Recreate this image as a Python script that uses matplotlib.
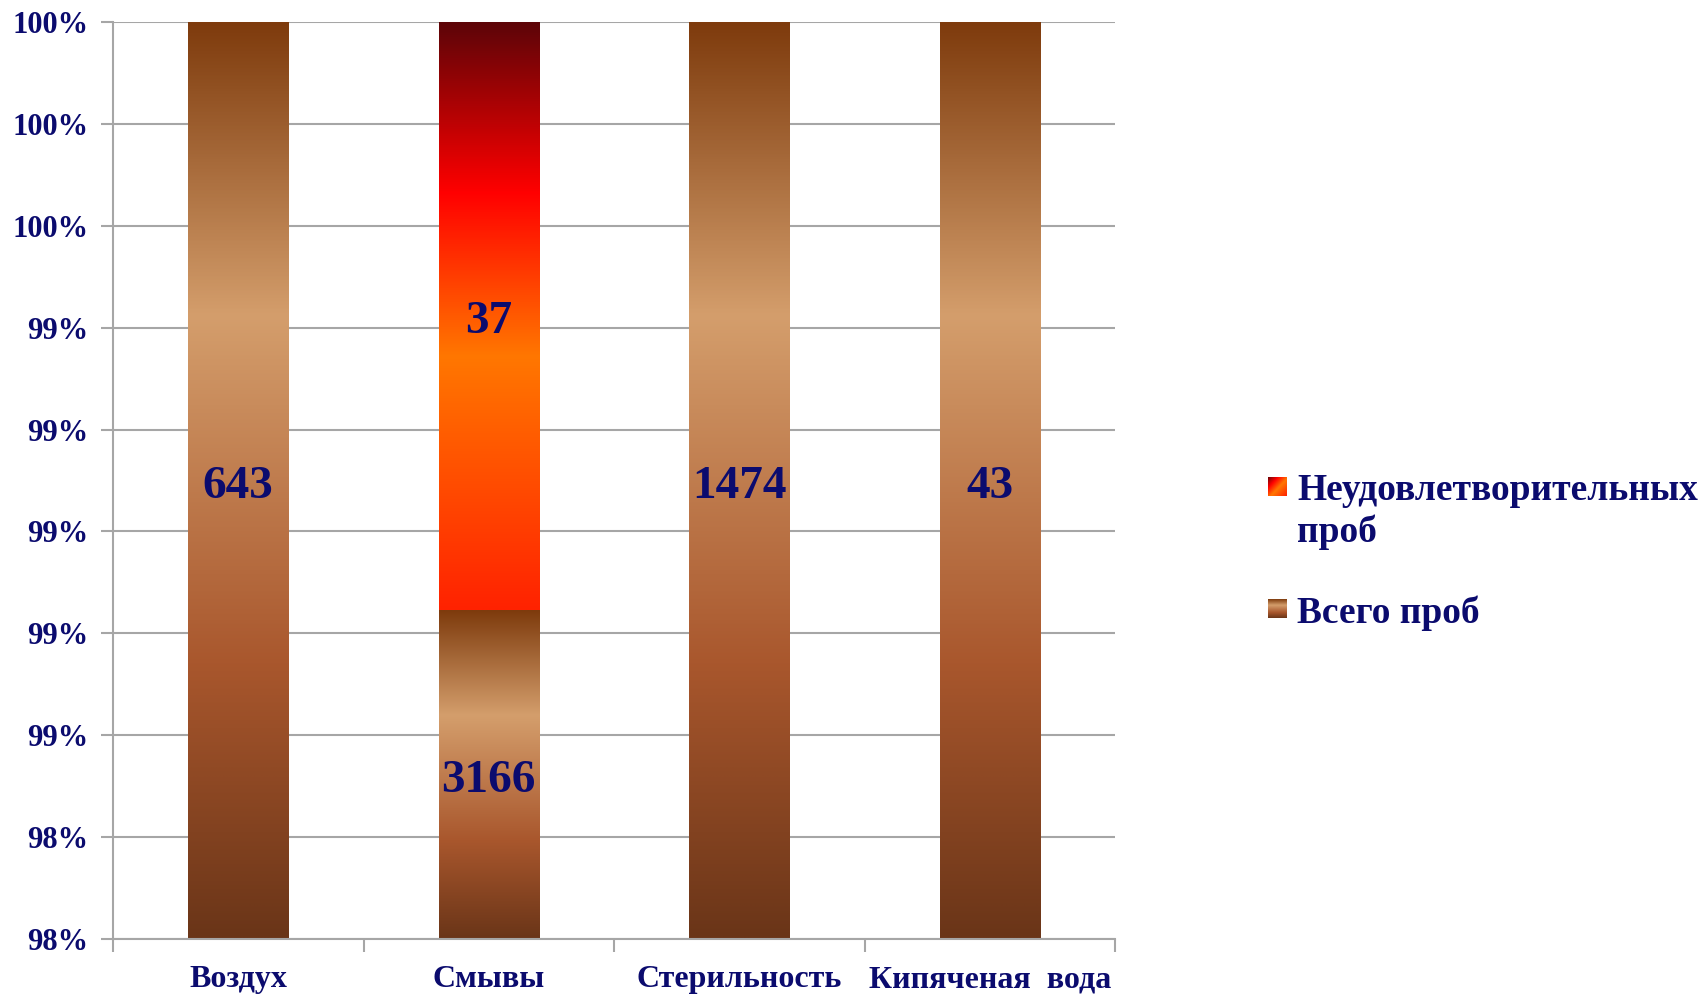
import matplotlib
matplotlib.use("Agg")
import matplotlib.pyplot as plt
import numpy as np
from matplotlib.colors import LinearSegmentedColormap

# ---- data ----
categories = ["Воздух", "Смывы", "Стерильность", "Кипяченая  вода"]
total_counts = [643, 3166, 1474, 43]     # "Всего проб"
bad_counts = [0, 37, 0, 0]               # "Неудовлетворительных проб"
series_names = ["Неудовлетворительных", "проб", "Всего проб"]
y_ticks = [98.2, 98.4, 98.6, 98.8, 99.0, 99.2, 99.4, 99.6, 99.8, 100.0]
y_tick_labels = ["98%", "98%", "99%", "99%", "99%", "99%", "99%", "100%", "100%", "100%"]

plt.rcParams['font.family'] = ['Liberation Serif', 'DejaVu Serif']
navy = '#0B0B6E'
grid_c = '#A6A6A6'

brown_cmap = LinearSegmentedColormap.from_list(
    'brown', [(0.0, '#7E3B0D'), (0.32, '#D49E6C'), (0.70, '#A9572D'), (1.0, '#6A3518')])
red_cmap = LinearSegmentedColormap.from_list(
    'red', [(0.0, '#5C0508'), (0.29, '#FF0000'), (0.57, '#FF7700'), (1.0, '#FF2200')])

W, H = 1704, 996
fig = plt.figure(figsize=(W / 100, H / 100), dpi=100)
L, R, T, B = 113, 1115, 22, 939
ax = fig.add_axes([L / W, (H - B) / H, (R - L) / W, (B - T) / H])

ymin, ymax = 98.2, 100.0
x = np.arange(len(categories))
width = 0.4

tot = np.array(total_counts, float)
bad = np.array(bad_counts, float)
sums = tot + bad
total_pct = tot / sums * 100
bad_pct = bad / sums * 100

bars_total = ax.bar(x, total_pct, width, color='none', edgecolor='none', zorder=2)
bars_bad = ax.bar(x, bad_pct, width, bottom=total_pct, color='none', edgecolor='none', zorder=2)

grad = np.linspace(0, 1, 512).reshape(-1, 1)

def fill_gradient(bars, cmap, counts):
    for rect, lab in zip(bars, counts):
        h = rect.get_height()
        if h <= 0:
            continue
        x0 = rect.get_x()
        x1 = x0 + rect.get_width()
        y0 = max(rect.get_y(), ymin)
        y1 = min(rect.get_y() + h, ymax)
        if y1 <= y0:
            continue
        im = ax.imshow(grad, cmap=cmap, origin='upper', aspect='auto',
                       extent=[x0, x1, y0, y1], zorder=2, interpolation='bilinear')
        im.set_clip_path(rect)
        ax.annotate(f"{lab:g}", ((x0 + x1) / 2, (y0 + y1) / 2), xytext=(0, -4.5),
                    textcoords='offset points', ha='center', va='center',
                    fontsize=34, fontweight='bold', color=navy, zorder=4)

fill_gradient(bars_total, brown_cmap, total_counts)
fill_gradient(bars_bad, red_cmap, bad_counts)

ax.set_xlim(-0.5, len(categories) - 0.5)
ax.set_ylim(ymin, ymax)
ax.set_yticks(y_ticks)
ax.set_yticklabels(y_tick_labels)
ax.yaxis.grid(True, color=grid_c, linewidth=1.5, zorder=0)
ax.set_axisbelow(True)
ax.tick_params(axis='y', length=9, width=1.5, color=grid_c, pad=8.5,
               labelsize=22, labelcolor=navy)
for lab in ax.get_yticklabels():
    lab.set_fontweight('bold')

ax.set_xticks(x)
ax.set_xticklabels(categories)
ax.set_xticks(np.arange(-0.5, len(categories)), minor=True)
ax.tick_params(axis='x', which='major', length=0, pad=19, labelsize=23, labelcolor=navy)
ax.tick_params(axis='x', which='minor', length=9, width=1.5, color=grid_c)
for lab in ax.get_xticklabels():
    lab.set_fontweight('bold')

for s in ['top', 'right']:
    ax.spines[s].set_visible(False)
for s in ['left', 'bottom']:
    ax.spines[s].set_color(grid_c)
    ax.spines[s].set_linewidth(1.5)

# ---- legend ----
def legend_square(px0, py0, size, cmap, diag=False):
    lax = fig.add_axes([px0 / W, (H - py0 - size) / H, size / W, size / H])
    if diag:
        g = np.add.outer(np.linspace(0, 1, 64), np.linspace(0, 1, 64)) / 2
        g = 0.15 + 0.7 * g
    else:
        g = grad
    lax.imshow(g, cmap=cmap, aspect='auto', origin='upper', interpolation='bilinear')
    lax.axis('off')

legend_square(1268, 477, 19, red_cmap, diag=True)
legend_square(1268, 599, 19, brown_cmap)
for txt, base in zip(series_names, [500, 542, 623]):
    fig.text(1297 / W, 1 - base / H, txt, fontsize=27, fontweight='bold',
             color=navy, ha='left', va='baseline')

fig.savefig('out.png', dpi=100, facecolor='white')
